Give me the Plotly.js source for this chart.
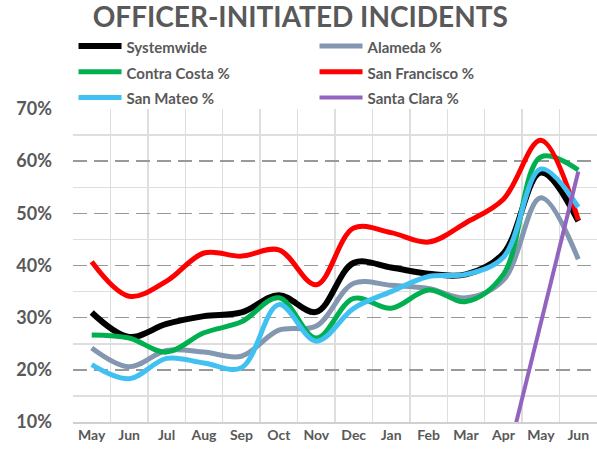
<!DOCTYPE html>
<html>
<head>
<meta charset="utf-8">
<script src="https://cdn.plot.ly/plotly-3.0.1.min.js"></script>
<style>html,body{margin:0;padding:0;background:#fff;}#chart{width:597px;height:454px;}</style>
</head>
<body>
<div id="chart"></div>
<script>
const months = ['May','Jun','Jul','Aug','Sep','Oct','Nov','Dec','Jan','Feb','Mar','Apr','May','Jun'];
const seriesNames = ['Systemwide','Alameda %','Contra Costa %','San Francisco %','San Mateo %','Santa Clara %'];
const systemwide   = [31.0, 26.3, 28.8, 30.3, 31.0, 34.3, 31.1, 40.5, 39.6, 38.4, 38.3, 42.3, 57.8, 48.5];
const alameda      = [24.2, 20.6, 23.7, 23.4, 22.6, 27.6, 28.4, 36.6, 36.2, 35.6, 33.8, 37.2, 53.0, 41.2];
const contraCosta  = [26.7, 26.1, 23.4, 27.1, 29.2, 33.8, 26.1, 33.7, 31.8, 35.3, 33.1, 38.3, 60.8, 58.3];
const sanFrancisco = [40.7, 34.1, 37.0, 42.4, 41.8, 43.0, 36.3, 47.2, 46.3, 44.5, 48.2, 52.7, 64.0, 48.7];
const sanMateo     = [21.0, 18.3, 22.2, 21.3, 20.4, 32.5, 25.5, 31.8, 35.0, 37.9, 38.3, 41.6, 58.5, 51.2];
const santaClara   = [null, null, null, null, null, null, null, null, null, null, null, 0.0, 29.0, 58.0];

const idx = months.map((m, i) => i);

function tr(name, y, color, width, shape) {
  return {
    type: 'scatter', mode: 'lines',
    name: '<span style="font-size:15px">' + name + '</span>',
    x: idx, y: y,
    line: {color: color, width: width, shape: shape || 'spline', smoothing: 1},
    connectgaps: false, hoverinfo: 'skip'
  };
}

const data = [
  tr(seriesNames[0], systemwide, '#000000', 6),
  tr(seriesNames[1], alameda, '#8497B0', 5),
  tr(seriesNames[2], contraCosta, '#00B050', 5),
  tr(seriesNames[3], sanFrancisco, '#FF0000', 5),
  tr(seriesNames[4], sanMateo, '#41C1F1', 5),
  tr(seriesNames[5], santaClara, '#9264BF', 4, 'linear')
];

const fam = 'Lato, "Open Sans", sans-serif';

const layout = {
  width: 597, height: 454,
  margin: {l: 73, r: 0, t: 109, b: 32, pad: 0, autoexpand: false},
  paper_bgcolor: '#ffffff', plot_bgcolor: '#ffffff',
  font: {family: fam, color: '#595959'},
  title: {
    text: '<b>OFFICER-INITIATED INCIDENTS</b>',
    font: {family: fam, size: 28, color: '#595959'},
    x: 0.503, xanchor: 'center', y: 0.962, yanchor: 'middle'
  },
  showlegend: true,
  legend: {
    orientation: 'h', x: 0.001, xanchor: 'left', y: 0.938, yanchor: 'top',
    xref: 'paper', yref: 'container',
    entrywidth: 183, entrywidthmode: 'pixels', itemwidth: 43,
    font: {family: fam, size: 17.5, color: '#595959', weight: 'bold'},
    bgcolor: 'rgba(0,0,0,0)', traceorder: 'normal'
  },
  xaxis: {
    range: [-0.5, 13.5], fixedrange: true,
    tickmode: 'array', tickvals: idx, ticktext: months,
    showgrid: false, zeroline: false,
    showline: true, linecolor: '#d0d0d0', linewidth: 1.5,
    ticks: '', tickfont: {family: fam, size: 14, color: '#595959', weight: 'bold'},
    minor: {tickmode: 'linear', tick0: -0.5, dtick: 1, showgrid: true, gridcolor: '#dedede', gridwidth: 1.5, griddash: 'solid', ticks: ''}
  },
  yaxis: {
    range: [10, 70], fixedrange: true,
    tickmode: 'linear', tick0: 10, dtick: 10, ticksuffix: '%',
    showgrid: true, gridcolor: '#999999', gridwidth: 1.6, griddash: '14px,7px',
    zeroline: false, showline: false, ticks: '', ticklabelstandoff: 20,
    tickfont: {family: fam, size: 18, color: '#595959', weight: 'bold'},
    minor: {tickmode: 'linear', tick0: 15, dtick: 10, showgrid: true, gridcolor: '#dedede', gridwidth: 1.5, griddash: 'solid', ticks: ''}
  }
};

Plotly.newPlot('chart', data, layout, {displayModeBar: false, staticPlot: true});
</script>
</body>
</html>
